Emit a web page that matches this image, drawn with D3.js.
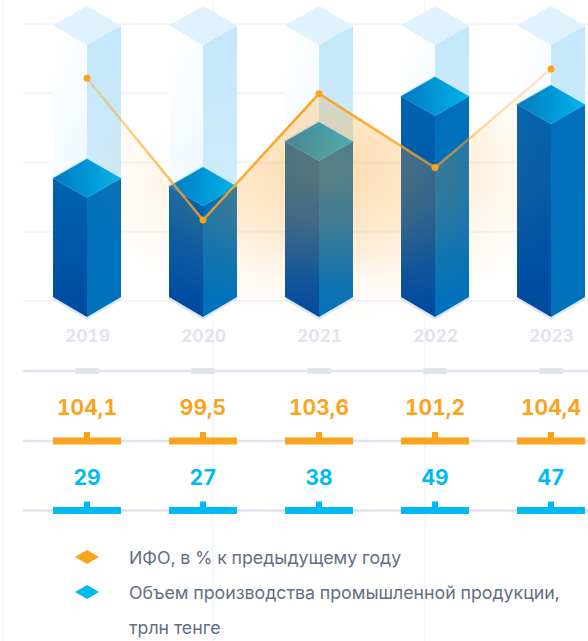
<!DOCTYPE html>
<html>
<head>
<meta charset="utf-8">
<script src="https://cdn.jsdelivr.net/npm/d3@7"></script>
<style>
    html, body { margin: 0; padding: 0; background: #fff; }
    svg { display: block; font-family: Inter, sans-serif; font-variant-numeric: tabular-nums; font-feature-settings: "tnum" 1; }
</style>
</head>
<body>
<div id="chart"></div>
<script>
const years = ["2019", "2020", "2021", "2022", "2023"];
const ifoValues = [104.1, 99.5, 103.6, 101.2, 104.4];
const ifoLabels = ["104,1", "99,5", "103,6", "101,2", "104,4"];
const outputValues = [29, 27, 38, 49, 47];
const ghostValue = 66.3;
const legendLabels = [
    ["ИФО, в % к предыдущему году"],
    ["Объем производства промышленной продукции,", "трлн тенге"]
];
const gridTicks = [0, 1, 2, 3, 4];

const WIDTH = 588;
const HEIGHT = 641;
const ORANGE = "#fca31c";
const BLUE = "#00baf2";
const PALE = "#dfe4ee";
const halfBar = 34;
const rise = 19.5;

const svg = d3.select("#chart").append("svg")
    .attr("width", WIDTH)
    .attr("height", HEIGHT);

const defs = svg.append("defs");

const x = d3.scalePoint().domain(years).range([87, 551]);
const yBar = d3.scaleLinear().domain([0, 66.3]).range([297, 25.5]);
const yLine = d3.scaleLinear().domain([99.5, 104.4]).range([220, 69]);
const yGrid = d3.scaleLinear().domain([0, 4]).range([301, 24]);

function addGradient(id, x1, y1, x2, y2, stops) {
    const grad = defs.append("linearGradient")
        .attr("id", id)
        .attr("x1", x1).attr("y1", y1)
        .attr("x2", x2).attr("y2", y2);
    stops.forEach(s => {
        grad.append("stop")
            .attr("offset", s[0])
            .attr("stop-color", s[1])
            .attr("stop-opacity", s[2] === undefined ? 1 : s[2]);
    });
}

addGradient("barLeft", 0, 0, 0, 1, [[0, "#0063b0"], [1, "#004a9f"]]);
addGradient("barRight", 0, 0, 0, 1, [[0, "#0070ba"], [1, "#0071bb"]]);
addGradient("barTop", 0, 0, 1, 0, [[0, "#0079c1"], [1, "#00b4ec"]]);
addGradient("ghostLeft", 0.3, 0, 0.6, 1, [[0, "#ffffff"], [1, "#e6f4fd"]]);
addGradient("ghostRight", 0, 0, 0, 1, [[0, "#c4e7fb"], [1, "#d4eefb"]]);

// elliptical glow, fades out before the bottom of the bars
const glow = defs.append("radialGradient")
    .attr("id", "glow")
    .attr("gradientUnits", "userSpaceOnUse")
    .attr("cx", 0).attr("cy", 0).attr("r", 1)
    .attr("gradientTransform", "translate(328,168) scale(245,152)");
glow.append("stop").attr("offset", 0).attr("stop-color", "#fb9d20").attr("stop-opacity", 0.36);
glow.append("stop").attr("offset", 0.4).attr("stop-color", "#fb9d20").attr("stop-opacity", 0.24);
glow.append("stop").attr("offset", 0.75).attr("stop-color", "#fb9d20").attr("stop-opacity", 0.07);
glow.append("stop").attr("offset", 1).attr("stop-color", "#fb9d20").attr("stop-opacity", 0);

const lineGrad = defs.append("linearGradient")
    .attr("id", "lineFade")
    .attr("gradientUnits", "userSpaceOnUse")
    .attr("x1", x("2019")).attr("y1", 0)
    .attr("x2", x("2023")).attr("y2", 0);
[[0, 0.35], [0.25, 0.85], [0.5, 1], [0.75, 0.7], [0.88, 0.35], [1, 0.2]].forEach(s => {
    lineGrad.append("stop")
        .attr("offset", s[0])
        .attr("stop-color", ORANGE)
        .attr("stop-opacity", s[1]);
});

// background grid
svg.append("g").selectAll("line")
    .data(gridTicks)
    .enter()
    .append("line")
        .attr("x1", 23)
        .attr("x2", WIDTH)
        .attr("y1", d => yGrid(d))
        .attr("y2", d => yGrid(d))
        .attr("stroke", "#f3f5f9")
        .attr("stroke-width", 2);

svg.append("g").selectAll("line")
    .data([3, 213, 425])
    .enter()
    .append("line")
        .attr("x1", d => d)
        .attr("x2", d => d)
        .attr("y1", 0)
        .attr("y2", HEIGHT)
        .attr("stroke", "#f5f7fb")
        .attr("stroke-width", 2);

function faces(cx, yTop) {
    return {
        left: [[cx - halfBar, yTop], [cx, yTop + rise], [cx, 317], [cx - halfBar, 297]],
        right: [[cx + halfBar, yTop], [cx, yTop + rise], [cx, 317], [cx + halfBar, 297]],
        top: [[cx - halfBar, yTop], [cx, yTop - rise], [cx + halfBar, yTop], [cx, yTop + rise]]
    };
}

function drawPoly(group, points, fill) {
    return group.append("polygon")
        .attr("points", points.map(p => p.join(",")).join(" "))
        .attr("fill", fill);
}

const bars = svg.append("g");
years.forEach((year, i) => {
    const cx = x(year);
    const ghost = faces(cx, yBar(ghostValue));
    const solid = faces(cx, yBar(outputValues[i]));
    const g = bars.append("g");

    // soft shadow under the bar
    g.append("polyline")
        .attr("points", [[cx - halfBar, 298], [cx, 318], [cx + halfBar, 298]].map(p => p.join(",")).join(" "))
        .attr("fill", "none")
        .attr("stroke", "#dfe5f0")
        .attr("stroke-width", 3);

    drawPoly(g, ghost.left, "url(#ghostLeft)");
    drawPoly(g, ghost.right, "url(#ghostRight)");
    drawPoly(g, ghost.top, "#dff2fd");

    drawPoly(g, solid.top, "#c8e8f8")
        .attr("stroke", "#c8e8f8")
        .attr("stroke-width", 2.5)
        .attr("stroke-linejoin", "round");
    drawPoly(g, solid.left, "url(#barLeft)");
    drawPoly(g, solid.right, "url(#barRight)");
    drawPoly(g, solid.top, "url(#barTop)");
});

// orange area below the line, it sits on top of the bars
const linePoints = years.map((year, i) => [x(year), yLine(ifoValues[i])]);
const area = d3.area()
    .x(d => d[0])
    .y0(330)
    .y1(d => d[1]);

svg.append("path")
    .attr("d", area(linePoints))
    .attr("fill", "url(#glow)");

svg.append("path")
    .attr("d", d3.line()(linePoints))
    .attr("fill", "none")
    .attr("stroke", "url(#lineFade)")
    .attr("stroke-width", 2.5);

svg.append("g").selectAll("circle")
    .data(linePoints)
    .enter()
    .append("circle")
        .attr("cx", d => d[0])
        .attr("cy", d => d[1])
        .attr("r", 3.5)
        .attr("fill", ORANGE);

// year axis
const yearAxis = d3.axisBottom(x).tickSize(0).tickPadding(0);
const yearGroup = svg.append("g")
    .attr("transform", "translate(0, 330)")
    .call(yearAxis);
yearGroup.select(".domain").remove();
yearGroup.selectAll("text")
    .attr("fill", PALE)
    .attr("font-family", "Inter")
    .attr("font-size", 17.5)
    .attr("font-weight", 700);

function drawRow(lineY, colour, labels) {
    const row = svg.append("g");
    row.append("line")
        .attr("x1", 23).attr("x2", WIDTH)
        .attr("y1", lineY).attr("y2", lineY)
        .attr("stroke", PALE)
        .attr("stroke-width", 2.5);
    row.selectAll("rect.bar")
        .data(years)
        .enter()
        .append("rect")
            .attr("class", "bar")
            .attr("x", d => x(d) - halfBar)
            .attr("y", lineY - 3.5)
            .attr("width", halfBar * 2)
            .attr("height", 7)
            .attr("fill", colour);
    row.selectAll("rect.nub")
        .data(years)
        .enter()
        .append("rect")
            .attr("class", "nub")
            .attr("x", d => x(d) - 3)
            .attr("y", lineY - 9)
            .attr("width", 6)
            .attr("height", 6)
            .attr("fill", colour);
    row.selectAll("text")
        .data(labels)
        .enter()
        .append("text")
            .attr("x", (d, i) => x(years[i]))
            .attr("y", lineY - 26)
            .attr("text-anchor", "middle")
            .attr("font-size", 21)
            .attr("font-weight", 700)
            .attr("fill", colour)
            .text(d => d);
}

// plain axis line with the grey tick blocks
svg.append("line")
    .attr("x1", 23).attr("x2", WIDTH)
    .attr("y1", 371).attr("y2", 371)
    .attr("stroke", PALE)
    .attr("stroke-width", 2.5);
svg.append("g").selectAll("rect")
    .data(years)
    .enter()
    .append("rect")
        .attr("x", d => x(d) - 12)
        .attr("y", 368)
        .attr("width", 24)
        .attr("height", 6)
        .attr("rx", 1)
        .attr("fill", PALE);

drawRow(441, ORANGE, ifoLabels);
drawRow(510.5, BLUE, outputValues);

// legend
const legendColours = [ORANGE, BLUE];
const legendY = [557, 592];
legendLabels.forEach((lines, i) => {
    const cy = legendY[i];
    svg.append("polygon")
        .attr("points", [[75, cy], [87, cy - 7], [99, cy], [87, cy + 7]].map(p => p.join(",")).join(" "))
        .attr("fill", legendColours[i]);
    lines.forEach((line, j) => {
        svg.append("text")
            .attr("x", 129)
            .attr("y", cy + 7 + j * 35)
            .attr("font-size", 17.75)
            .attr("fill", "#5f6f86")
            .text(line);
    });
});
</script>
</body>
</html>
